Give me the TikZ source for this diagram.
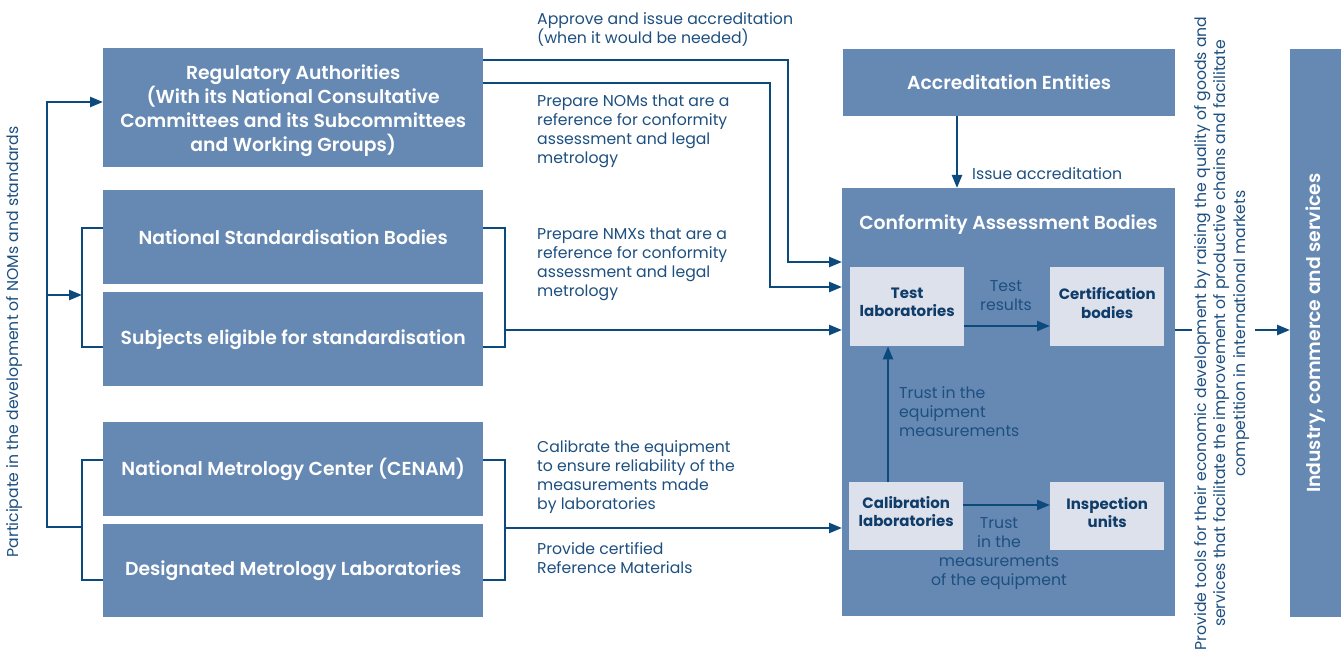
\documentclass[tikz,border=0pt]{standalone}
\usepackage{fontspec}
\setmainfont{Poppins}
\newfontfamily\semib{Poppins SemiBold}
\usetikzlibrary{arrows.meta}
\definecolor{boxblue}{HTML}{6689B3}
\definecolor{lightbox}{HTML}{DCE1EC}
\definecolor{linecol}{HTML}{0C4A7E}
\definecolor{txtcol}{HTML}{1D4F80}
\definecolor{navy}{HTML}{0F3C69}
\begin{document}
\begin{tikzpicture}[x=1pt,y=-1pt,
  box/.style={fill=boxblue, draw=none, text=white, font=\semib\fontsize{18.8}{24}\selectfont, align=center, inner sep=0pt, anchor=north west},
  inbox/.style={fill=lightbox, draw=none, text=navy, font=\bfseries\fontsize{15}{18.5}\selectfont, align=center, inner sep=0pt, anchor=north west},
  conn/.style={draw=linecol, line width=2.4pt},
  arr/.style={conn, -{Triangle[length=13pt,width=10pt]}},
  lbl/.style={text=txtcol, font=\fontsize{15.7}{19}\selectfont, align=left, inner sep=0pt, anchor=north west},
  vlbl/.style={text=txtcol, font=\fontsize{15.7}{19.5}\selectfont, align=center, inner sep=0pt, rotate=90},
]
\useasboundingbox (0,0) rectangle (1344,652);

% left boxes
\node[box, minimum width=380pt, minimum height=119pt] (ra) at (103,48) {\rule{0pt}{21pt}Regulatory Authorities\\(With its National Consultative\\Committees and its Subcommittees\\and Working Groups)};
\node[box, minimum width=380pt, minimum height=94pt] (nsb) at (103,190) {National Standardisation Bodies};
\node[box, minimum width=380pt, minimum height=94pt] (subj) at (103,292) {Subjects eligible for standardisation};
\node[box, minimum width=380pt, minimum height=94pt] (cenam) at (103,422) {National Metrology Center (CENAM)};
\node[box, minimum width=380pt, minimum height=93pt] (dml) at (103,524) {Designated Metrology Laboratories};

% right boxes
\node[box, minimum width=332pt, minimum height=67pt] (ae) at (843,49) {Accreditation Entities};
\node[box, minimum width=333pt, minimum height=428pt] (cab) at (842,188) {};
\node[text=white, font=\semib\fontsize{18.8}{24}\selectfont, inner sep=0pt] (cabt) at (1008.5,225) {Conformity Assessment Bodies};
\node[box, minimum width=51pt, minimum height=568pt] (ind) at (1290,49) {};
\node[text=white, font=\semib\fontsize{18.8}{24}\selectfont, inner sep=0pt, rotate=90] (indt) at (ind.center) {Industry, commerce and services};

% inner boxes
\node[inbox, minimum width=114pt, minimum height=79pt] (tl) at (850,267) {Test\\laboratories\rule[-9pt]{0pt}{0pt}};
\node[inbox, minimum width=114pt, minimum height=79pt] (cb) at (1050,267) {Certification\\bodies\rule[-7pt]{0pt}{0pt}};
\node[inbox, minimum width=114pt, minimum height=68pt] (cl) at (849,482) {Calibration\\laboratories\rule[-9pt]{0pt}{0pt}};
\node[inbox, minimum width=114pt, minimum height=68pt] (iu) at (1050,482) {Inspection\\units\rule[-7pt]{0pt}{0pt}};

% labels
\node[lbl] (l1) at (537,12) {Approve and issue accreditation\\(when it would be needed)};
\node[lbl] (l2) at (537,95) {Prepare NOMs that are a\\reference for conformity\\assessment and legal\\metrology};
\node[lbl] (l3) at (537,228) {Prepare NMXs that are a\\reference for conformity\\assessment and legal\\metrology};
\node[lbl] (l4) at (537,440) {Calibrate the equipment\\to ensure reliability of the\\measurements made\\by laboratories};
\node[lbl] (l5) at (537,542) {Provide certified\\Reference Materials};
\node[lbl] (l6) at (972,167) {Issue accreditation};
\node[lbl, align=center, anchor=north] (l7) at (1006,280) {Test\\results};
\node[lbl] (l8) at (899,386) {Trust in the\\equipment\\measurements};
\node[lbl, align=center, anchor=north] (l9) at (999,517) {Trust\\in the\\measurements\\of the equipment};
\node[vlbl] (lv1) at (15,342) {Participate in the development of NOMs and standards};
\node[vlbl] (lv2) at (1222,333.5) {Provide tools for their economic development by raising the quality of goods and\\services that facilitate the improvement of productive chains and facilitate\\competition in international markets};

% coordinates
\coordinate (lbx) at (82,347);
\coordinate (ltx) at (82,228);
\coordinate (rbx) at (505,347);
\coordinate (rtx) at (505,228);
\coordinate (mlt) at (82,460);
\coordinate (mlb) at (82,580);
\coordinate (mrt) at (505,460);
\coordinate (mrb) at (505,580);
\coordinate (outb) at (82,527);
\coordinate (outc) at (47,527);
\coordinate (outt) at (47,102);
\coordinate (outm) at (47,295);
\coordinate (ltm) at (82,295);
\coordinate (sub1) at (505,330);
\coordinate (cal1) at (505,528);
\coordinate (rgt1) at (1192,330);
\coordinate (rgt2) at (1255,330);

% brackets
\draw[conn] (nsb.west |- ltx) -- (ltx) -- (lbx) -- (subj.west |- lbx);
\draw[conn] (nsb.east |- rtx) -- (rtx) -- (rbx) -- (subj.east |- rbx);
\draw[conn] (cenam.west |- mlt) -- (mlt) -- (mlb) -- (dml.west |- mlb);
\draw[conn] (cenam.east |- mrt) -- (mrt) -- (mrb) -- (dml.east |- mrb);

% outer left
\draw[arr] (outb) -- (outc) -- (outt) -- (ra.west |- outt);
\draw[arr] (outm) -- (ltm);

% to CAB
\draw[arr] (ra.east |- 0,60) -- (788,60) -- (788,262) -- (cab.west |- 0,262);
\draw[arr] (ra.east |- 0,83) -- (770,83) -- (770,287) -- (cab.west |- 0,287);
\draw[arr] (sub1) -- (cab.west |- sub1);
\draw[arr] (cal1) -- (cab.west |- cal1);
\draw[arr] (ae.south -| 957,0) -- (cab.north -| 957,0);

% inside CAB
\draw[arr] (tl.east |- 0,326) -- (cb.west |- 0,326);
\draw[arr] (cl.north -| 888,0) -- (tl.south -| 888,0);
\draw[arr] (cl.east |- 0,505) -- (iu.west |- 0,505);

% right
\draw[conn] (cab.east |- rgt1) -- (rgt1);
\draw[arr] (rgt2) -- (ind.west |- rgt2);
\end{tikzpicture}
\end{document}
